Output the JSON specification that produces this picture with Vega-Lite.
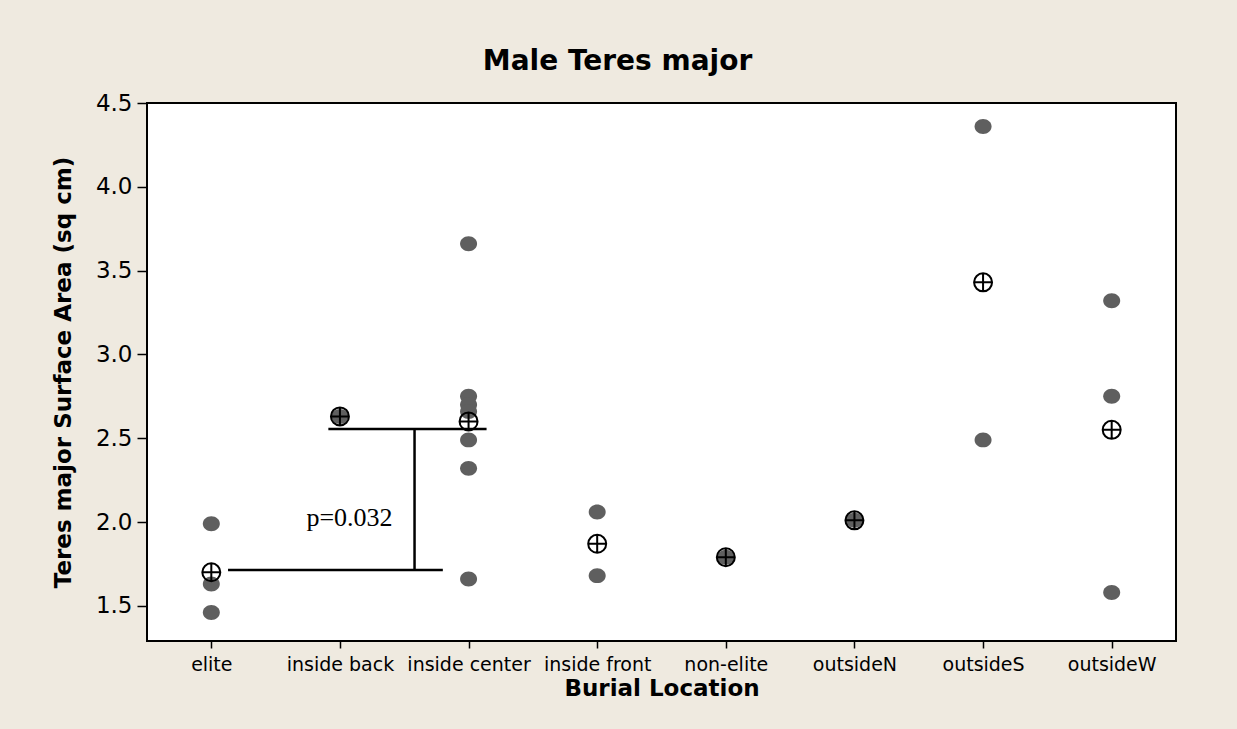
{
  "$schema": "https://vega.github.io/schema/vega-lite/v6.json",
  "width": 1029,
  "height": 538,
  "autosize": {"type": "none"},
  "padding": {"left": 147, "top": 103, "right": 61, "bottom": 88},
  "background": "#EFEAE0",
  "config": {
    "view": {"fill": "white", "stroke": "black", "strokeWidth": 2},
    "axis": {"domain": false, "grid": false, "tickColor": "black", "tickWidth": 1.5, "labelColor": "black", "titleColor": "black"}
  },
  "title": {"text": "Male Teres major", "font": "DejaVu Sans", "fontSize": 28, "fontWeight": "bold", "color": "black", "anchor": "middle", "dx": -44, "offset": 16},
  "datasets": {
    "pts": [
      {"location": "elite", "idx": 0, "area": 1.99},
      {"location": "elite", "idx": 0, "area": 1.63},
      {"location": "elite", "idx": 0, "area": 1.46},
      {"location": "inside back", "idx": 1, "area": 2.63},
      {"location": "inside center", "idx": 2, "area": 3.66},
      {"location": "inside center", "idx": 2, "area": 2.75},
      {"location": "inside center", "idx": 2, "area": 2.70},
      {"location": "inside center", "idx": 2, "area": 2.66},
      {"location": "inside center", "idx": 2, "area": 2.49},
      {"location": "inside center", "idx": 2, "area": 2.32},
      {"location": "inside center", "idx": 2, "area": 1.66},
      {"location": "inside front", "idx": 3, "area": 2.06},
      {"location": "inside front", "idx": 3, "area": 1.68},
      {"location": "non-elite", "idx": 4, "area": 1.79},
      {"location": "outsideN", "idx": 5, "area": 2.01},
      {"location": "outsideS", "idx": 6, "area": 4.36},
      {"location": "outsideS", "idx": 6, "area": 2.49},
      {"location": "outsideW", "idx": 7, "area": 3.32},
      {"location": "outsideW", "idx": 7, "area": 2.75},
      {"location": "outsideW", "idx": 7, "area": 1.58}
    ],
    "means": [
      {"location": "elite", "idx": 0, "area": 1.70},
      {"location": "inside back", "idx": 1, "area": 2.63},
      {"location": "inside center", "idx": 2, "area": 2.60},
      {"location": "inside front", "idx": 3, "area": 1.87},
      {"location": "non-elite", "idx": 4, "area": 1.79},
      {"location": "outsideN", "idx": 5, "area": 2.01},
      {"location": "outsideS", "idx": 6, "area": 3.43},
      {"location": "outsideW", "idx": 7, "area": 2.55}
    ],
    "segs": [
      {"x": 0.13, "x2": 1.80, "y": 1.714, "y2": 1.714},
      {"x": 0.91, "x2": 2.14, "y": 2.555, "y2": 2.555},
      {"x": 1.58, "x2": 1.58, "y": 1.714, "y2": 2.555}
    ],
    "note": [{"x": 1.074, "y": 1.976, "label": "p=0.032"}]
  },
  "layer": [
    {
      "data": {"name": "pts"},
      "mark": {"type": "point", "shape": "M-1,0A1,0.88 0 1,1 1,0A1,0.88 0 1,1 -1,0Z", "filled": true, "size": 289, "color": "#5f5f5f", "opacity": 1},
      "encoding": {
        "x": {"field": "idx", "type": "quantitative", "scale": {"domain": [-0.5, 7.5], "nice": false, "zero": false},
          "axis": {"values": [0, 1, 2, 3, 4, 5, 6, 7], "labelExpr": "['elite','inside back','inside center','inside front','non-elite','outsideN','outsideS','outsideW'][datum.value]", "tickSize": 7, "labelFont": "DejaVu Sans", "labelFontSize": 19, "labelPadding": 7, "title": "Burial Location", "titleFont": "DejaVu Sans", "titleFontSize": 23, "titleFontWeight": "bold", "titlePadding": 3}},
        "y": {"field": "area", "type": "quantitative", "scale": {"domain": [1.29, 4.5], "nice": false, "zero": false},
          "axis": {"values": [1.5, 2.0, 2.5, 3.0, 3.5, 4.0, 4.5], "format": ".1f", "tickSize": 10, "labelFont": "DejaVu Sans", "labelFontSize": 23, "labelPadding": 5, "title": "Teres major Surface Area (sq cm)", "titleFont": "DejaVu Sans", "titleFontSize": 23, "titleFontWeight": "bold", "titlePadding": 20}}
      }
    },
    {
      "data": {"name": "means"},
      "mark": {"type": "point", "shape": "M-1,0A1,1 0 1,1 1,0A1,1 0 1,1 -1,0M-1,0L1,0M0,-1L0,1", "filled": false, "size": 324, "stroke": "black", "strokeWidth": 2, "opacity": 1},
      "encoding": {
        "x": {"field": "idx", "type": "quantitative"},
        "y": {"field": "area", "type": "quantitative"}
      }
    },
    {
      "data": {"name": "segs"},
      "mark": {"type": "rule", "color": "black", "strokeWidth": 2.5},
      "encoding": {
        "x": {"field": "x", "type": "quantitative"},
        "x2": {"field": "x2"},
        "y": {"field": "y", "type": "quantitative"},
        "y2": {"field": "y2"}
      }
    },
    {
      "data": {"name": "note"},
      "mark": {"type": "text", "font": "Liberation Serif", "fontSize": 26, "color": "black", "align": "center", "baseline": "alphabetic"},
      "encoding": {
        "x": {"field": "x", "type": "quantitative"},
        "y": {"field": "y", "type": "quantitative"},
        "text": {"field": "label"}
      }
    }
  ]
}
